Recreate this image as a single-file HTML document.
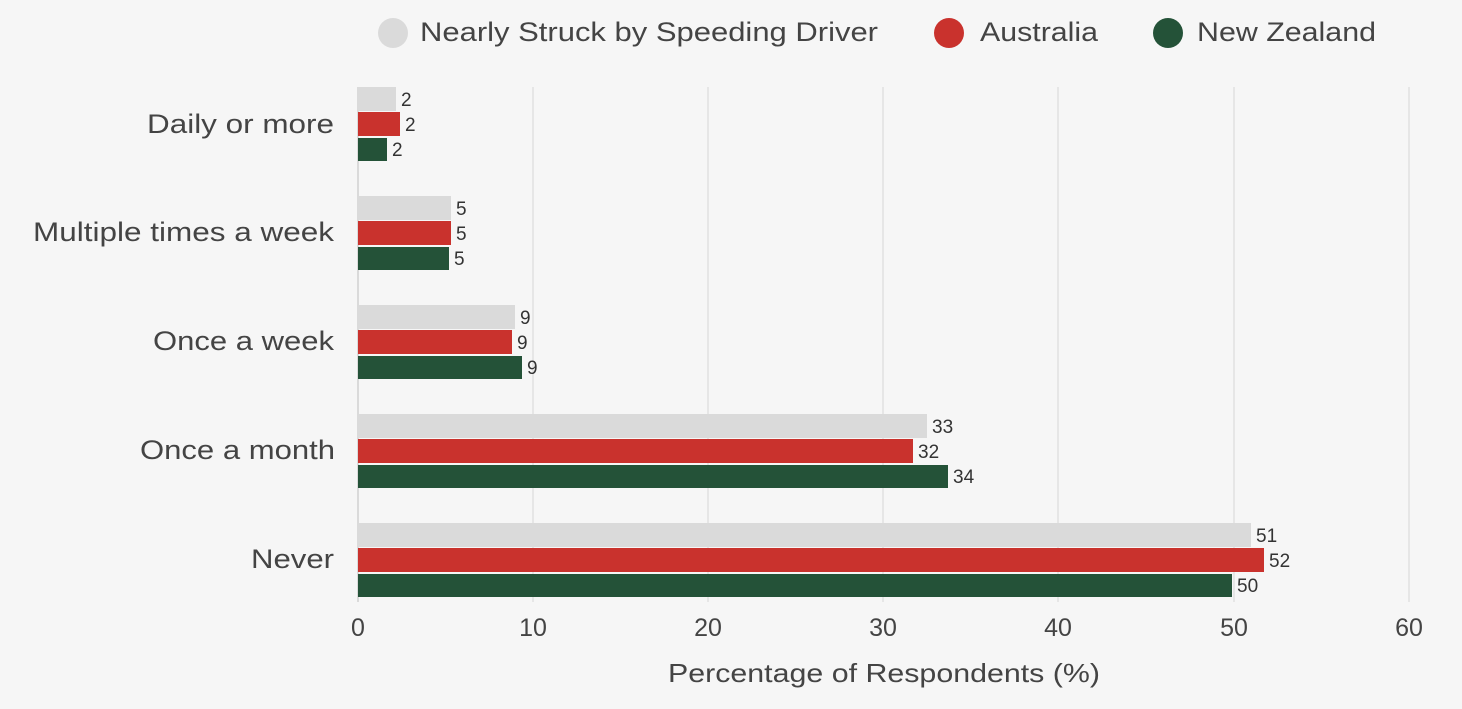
<!DOCTYPE html><html><head><style>body{margin:0;background:#f6f6f6}</style></head><body>
<svg width="1462" height="704" xmlns="http://www.w3.org/2000/svg" style="font-family:'Liberation Sans',sans-serif">
<rect width="1462" height="704" fill="#f6f6f6"/>
<g stroke="#e0e0e0" stroke-width="1.5">
<line x1="533" y1="87" x2="533" y2="602"/><line x1="708" y1="87" x2="708" y2="602"/><line x1="883" y1="87" x2="883" y2="602"/><line x1="1058" y1="87" x2="1058" y2="602"/><line x1="1234" y1="87" x2="1234" y2="602"/><line x1="1409" y1="87" x2="1409" y2="602"/>
</g>
<line x1="358" y1="87" x2="358" y2="602" stroke="#d0d0d0" stroke-width="1.5"/>
<g font-size="19" fill="#333">
<rect x="358" y="87" width="38" height="24" fill="#dadada"/><text x="401" y="106">2</text>
<rect x="358" y="112" width="42" height="24" fill="#c9322d"/><text x="405" y="131">2</text>
<rect x="358" y="138" width="29" height="23" fill="#245238"/><text x="392" y="156">2</text>
<rect x="358" y="196" width="93" height="24" fill="#dadada"/><text x="456" y="215">5</text>
<rect x="358" y="221" width="93" height="24" fill="#c9322d"/><text x="456" y="240">5</text>
<rect x="358" y="247" width="91" height="23" fill="#245238"/><text x="454" y="265">5</text>
<rect x="358" y="305" width="157" height="24" fill="#dadada"/><text x="520" y="324">9</text>
<rect x="358" y="330" width="154" height="24" fill="#c9322d"/><text x="517" y="349">9</text>
<rect x="358" y="356" width="164" height="23" fill="#245238"/><text x="527" y="374">9</text>
<rect x="358" y="414" width="569" height="24" fill="#dadada"/><text x="932" y="433">33</text>
<rect x="358" y="439" width="555" height="24" fill="#c9322d"/><text x="918" y="458">32</text>
<rect x="358" y="465" width="590" height="23" fill="#245238"/><text x="953" y="483">34</text>
<rect x="358" y="523" width="893" height="24" fill="#dadada"/><text x="1256" y="542">51</text>
<rect x="358" y="548" width="906" height="24" fill="#c9322d"/><text x="1269" y="567">52</text>
<rect x="358" y="574" width="874" height="23" fill="#245238"/><text x="1237" y="592">50</text>
</g>
<g font-size="27" fill="#444">
<text x="147" y="133" textLength="187" lengthAdjust="spacingAndGlyphs">Daily or more</text>
<text x="33" y="241" textLength="301" lengthAdjust="spacingAndGlyphs">Multiple times a week</text>
<text x="153" y="350" textLength="181" lengthAdjust="spacingAndGlyphs">Once a week</text>
<text x="140" y="459" textLength="195" lengthAdjust="spacingAndGlyphs">Once a month</text>
<text x="251" y="568" textLength="83" lengthAdjust="spacingAndGlyphs">Never</text>
</g>
<g font-size="25" fill="#444" text-anchor="middle">
<text x="358" y="636">0</text><text x="533" y="636">10</text><text x="708" y="636">20</text><text x="883" y="636">30</text><text x="1058" y="636">40</text><text x="1234" y="636">50</text><text x="1409" y="636">60</text>
</g>
<text x="668" y="682" font-size="26" fill="#444" textLength="432" lengthAdjust="spacingAndGlyphs">Percentage of Respondents (%)</text>
<g font-size="27" fill="#444">
<circle cx="393" cy="33" r="15" fill="#dadada"/><text x="420" y="41" textLength="458" lengthAdjust="spacingAndGlyphs">Nearly Struck by Speeding Driver</text>
<circle cx="949" cy="33" r="15" fill="#c9322d"/><text x="980" y="41" textLength="118" lengthAdjust="spacingAndGlyphs">Australia</text>
<circle cx="1168" cy="33" r="15" fill="#245238"/><text x="1197" y="41" textLength="179" lengthAdjust="spacingAndGlyphs">New Zealand</text>
</g>
</svg></body></html>
